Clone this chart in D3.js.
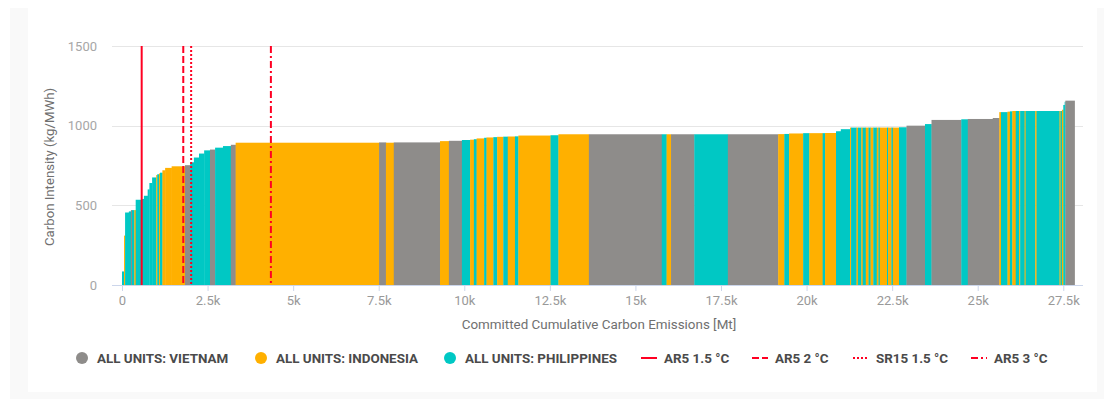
<!DOCTYPE html>
<html>
<head>
<meta charset="utf-8">
<script src="https://cdn.jsdelivr.net/npm/d3@7/dist/d3.min.js"></script>
<style>
  html, body { margin: 0; padding: 0; background: #ffffff; }
  svg { display: block; font-family: Roboto, "Noto Sans", sans-serif; }
</style>
</head>
<body>
<svg id="chart" width="1104" height="399"></svg>
<script>
// Coal units ordered by carbon intensity: country, committed emissions (Mt), intensity (kg/MWh)
const unitCountry = [
  "P","I","P","P","V","P","I","P","P","P","P","P","P","I","P","I","P","I","I","I",
  "V","P","P","P","P","V","P","P","V","I","V","I","V","I","V","P","I","P","I","P",
  "I","P","I","P","I","P","I","P","I","V","P","I","V","P","V","I","P","I","P","I",
  "P","I","P","P","I","P","I","P","I","P","I","P","I","P","I","P","I","P","I","P",
  "I","P","V","P","V","P","V","V","I","P","I","P","I","P","I","P","I","P","I","P",
  "I","P","I","P","P","V"
];
const unitEmissions = [
  60,30,110,60,30,70,40,160,80,110,50,80,120,30,50,30,70,80,190,390,
  150,110,150,150,170,150,230,230,140,4190,200,230,1350,260,380,240,110,80,220,70,
  200,110,180,130,210,100,940,230,890,2130,140,130,680,980,1470,180,140,410,180,390,
  70,320,140,270,30,160,40,100,40,90,80,60,80,100,50,40,210,30,100,40,
  180,220,540,190,870,190,730,190,50,190,70,70,100,100,30,130,30,280,40,670,
  30,40,40,40,20,270
];
const unitIntensity = [
  85,310,455,462,470,470,470,535,540,560,600,640,675,690,695,700,705,720,735,745,
  752,770,800,825,845,850,862,872,880,893,895,893,895,903,905,910,912,915,920,924,
  926,928,930,931,932,933,938,940,946,946,946,946,946,946,946,947,948,951,953,953,
  953,954,965,978,988,988,988,988,988,988,988,988,988,988,988,988,988,988,988,988,
  988,990,1000,1010,1036,1040,1042,1048,1085,1085,1088,1090,1092,1092,1092,1092,1092,1092,1092,1092,
  1092,1092,1100,1130,1150,1157
];

const countryNames = { V: "ALL UNITS: VIETNAM", I: "ALL UNITS: INDONESIA", P: "ALL UNITS: PHILIPPINES" };
const countryColors = { V: "#8e8c8a", I: "#ffb000", P: "#00c8c4" };
const countryOrder = ["V", "I", "P"];

// Carbon budget markers (Mt)
const budgetLabels = ["AR5 1.5 °C", "AR5 2 °C", "SR15 1.5 °C", "AR5 3 °C"];
const budgetValues = [575, 1790, 2020, 4350];
const budgetDashes = [null, "7,3", "2,2", "7,3,2,3"];

const xTicks = [0, 2500, 5000, 7500, 10000, 12500, 15000, 17500, 20000, 22500, 25000, 27500];
const yTicks = [0, 500, 1000, 1500];

const svg = d3.select("#chart");

// page frame and white card
svg.append("rect").attr("x", 10).attr("y", 8).attr("width", 1094).attr("height", 391).attr("fill", "#f9f9f9");
svg.append("rect").attr("x", 28).attr("y", 0).attr("width", 1069).attr("height", 392).attr("fill", "#ffffff");

const plotLeft = 112, plotRight = 1083, plotTop = 46, plotBottom = 285;
const x = d3.scaleLinear().domain([0, 28076]).range([122, plotRight]);
const y = d3.scaleLinear().domain([0, 1500]).range([plotBottom, plotTop]);

// grid
svg.append("g").selectAll("line").data(yTicks.filter(d => d > 0)).join("line")
  .attr("x1", plotLeft).attr("x2", plotRight)
  .attr("y1", d => Math.round(y(d)) + 0.5).attr("y2", d => Math.round(y(d)) + 0.5)
  .attr("stroke", "#e6e6e6").attr("stroke-width", 1);

// bars
const starts = [0, ...d3.cumsum(unitEmissions)];
const bars = unitCountry.map((c, i) => ({ c, x0: starts[i], x1: starts[i + 1], v: unitIntensity[i] }));
svg.append("g").selectAll("rect").data(bars).join("rect")
  .attr("x", d => x(d.x0))
  .attr("width", d => x(d.x1) - x(d.x0) + 0.3)
  .attr("y", d => y(d.v))
  .attr("height", d => y(0) - y(d.v))
  .attr("fill", d => countryColors[d.c]);

// budget lines
svg.append("g").selectAll("line").data(budgetValues).join("line")
  .attr("x1", d => x(d)).attr("x2", d => x(d))
  .attr("y1", plotTop).attr("y2", plotBottom)
  .attr("stroke", "#ff0022").attr("stroke-width", 2)
  .attr("stroke-dasharray", (d, i) => budgetDashes[i]);

// x axis
const xAxis = d3.axisBottom(x).tickValues(xTicks)
  .tickFormat(d => d === 0 ? "0" : (d / 1000) + "k").tickSize(6).tickPadding(5);
const gx = svg.append("g").attr("transform", `translate(0,${plotBottom})`).call(xAxis);
gx.select(".domain").remove();
gx.insert("line", ":first-child").attr("x1", plotLeft).attr("x2", plotRight)
  .attr("y1", 0.5).attr("y2", 0.5).attr("stroke", "#ccd6eb");
gx.selectAll(".tick line").attr("stroke", "#ccd6eb");
gx.selectAll(".tick text").attr("fill", "#999999").attr("font-size", 13).attr("font-family", "Roboto");

// y axis labels
const yAxis = d3.axisLeft(y).tickValues(yTicks).tickFormat(d3.format("d")).tickSize(0).tickPadding(0);
const gy = svg.append("g").attr("transform", "translate(97,0)").call(yAxis);
gy.select(".domain").remove();
gy.selectAll(".tick text").attr("fill", "#a6a6a6").attr("font-size", 13).attr("font-family", "Roboto");

// axis titles
svg.append("text").attr("x", 599).attr("y", 329).attr("text-anchor", "middle")
  .attr("fill", "#707070").attr("font-size", 13.4).text("Committed Cumulative Carbon Emissions [Mt]");
svg.append("text").attr("transform", "translate(54,167) rotate(-90)").attr("text-anchor", "middle")
  .attr("fill", "#707070").attr("font-size", 13.2).text("Carbon Intensity (kg/MWh)");

// legend
const legendY = 358;
const legendItems = [
  ...countryOrder.map(c => ({ type: "dot", c, label: countryNames[c] })),
  ...budgetLabels.map((l, i) => ({ type: "line", dash: budgetDashes[i], label: l }))
];
const legendX = [82, 261, 450, 641, 752, 853, 971];
const lg = svg.append("g").selectAll("g").data(legendItems).join("g")
  .attr("transform", (d, i) => `translate(${legendX[i]},${legendY})`);
lg.filter(d => d.type === "dot").append("circle").attr("r", 6).attr("fill", d => countryColors[d.c]);
lg.filter(d => d.type === "line").append("line").attr("x1", 0).attr("x2", 16).attr("y1", 0).attr("y2", 0)
  .attr("stroke", "#ff0022").attr("stroke-width", 2).attr("stroke-dasharray", d => d.dash);
lg.append("text").attr("x", d => d.type === "dot" ? 15 : 23).attr("y", 5)
  .attr("font-size", 13.4).attr("font-weight", "bold").attr("fill", "#4a4a4a").text(d => d.label);
</script>
</body>
</html>
